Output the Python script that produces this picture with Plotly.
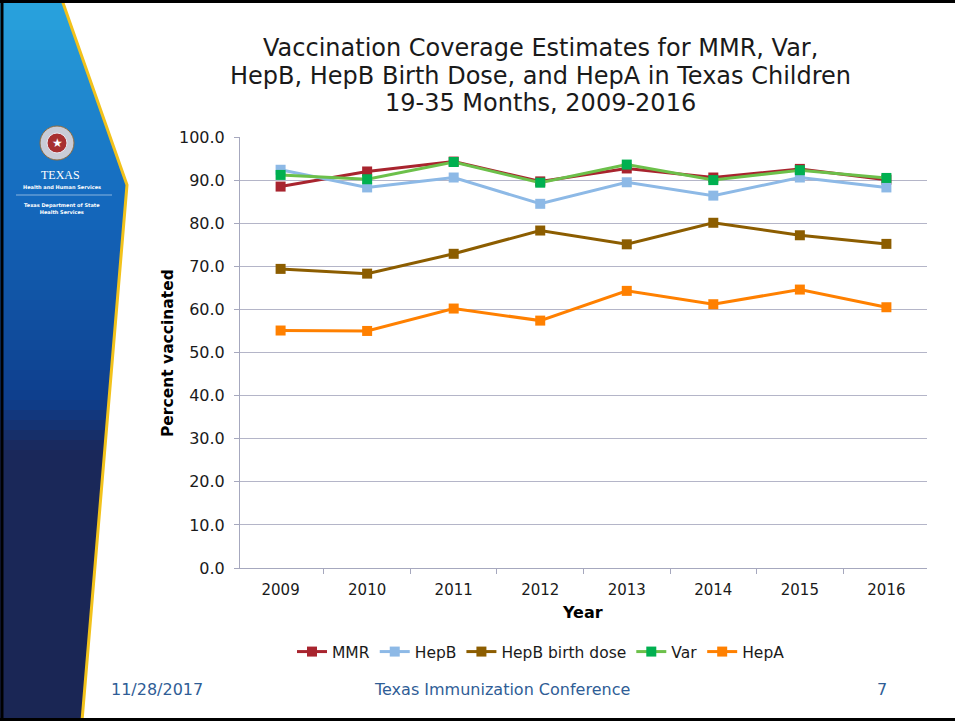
import plotly.graph_objects as go

# data
years = ["2009", "2010", "2011", "2012", "2013", "2014", "2015", "2016"]
mmr = [88.5, 92.0, 94.3, 89.7, 92.7, 90.6, 92.6, 90.1]
hepb = [92.4, 88.3, 90.6, 84.5, 89.5, 86.4, 90.6, 88.3]
hepb_birth = [69.4, 68.3, 72.9, 78.3, 75.1, 80.1, 77.2, 75.2]
var = [91.2, 90.2, 94.2, 89.4, 93.6, 90.0, 92.3, 90.5]
hepa = [55.1, 55.0, 60.2, 57.4, 64.3, 61.2, 64.6, 60.5]

title_lines = ["Vaccination Coverage Estimates for MMR, Var,",
               "HepB, HepB Birth Dose, and HepA in Texas Children",
               "19-35 Months, 2009-2016"]

W, H = 955, 721
L, R, T, B = 240, 927, 137, 568   # plot area in pixels


def px(x):
    return (x - L) / (R - L)


def py(y):
    return (B - y) / (B - T)


series = [
    ("MMR", mmr, "#A8242E", "#A8242E"),
    ("HepB", hepb, "#8DB9E6", "#8DB9E6"),
    ("HepB birth dose", hepb_birth, "#8C5D00", "#8C5D00"),
    ("Var", var, "#6CC04A", "#00B050"),
    ("HepA", hepa, "#FF8000", "#FF8000"),
]

fig = go.Figure()
for name, vals, lc, mc in series:
    fig.add_trace(go.Scatter(
        x=years, y=vals, name=name, mode="lines+markers",
        line=dict(color=lc, width=3),
        marker=dict(symbol="square", size=10, color=mc),
    ))


# left decorative panel
def edge_x(y):
    if y <= 185:
        return 62 + 65 * y / 185
    return 127 - 45 * (y - 185) / 536


stops = [(0, (42, 165, 222)), (200, (20, 105, 190)), (400, (14, 62, 140)),
         (450, (26, 40, 90)), (721, (26, 38, 84))]


def col_at(y):
    for (y0, c0), (y1, c1) in zip(stops, stops[1:]):
        if y0 <= y <= y1:
            t = (y - y0) / (y1 - y0)
            return "rgb(%d,%d,%d)" % tuple(round(a + (b - a) * t) for a, b in zip(c0, c1))
    return "rgb(26,38,84)"


shapes = []
band_edges = list(range(0, 721, 10)) + [721]
for y0, y1 in zip(band_edges, band_edges[1:]):
    pts = [(0, y0), (edge_x(y0), y0)]
    if y0 < 185 < y1:
        pts.append((edge_x(185), 185))
    pts += [(edge_x(y1), y1), (0, y1)]
    path = "M " + " L ".join("%f,%f" % (px(a), py(b)) for a, b in pts) + " Z"
    shapes.append(dict(type="path", xref="paper", yref="paper", path=path,
                       fillcolor=col_at((y0 + y1) / 2), line=dict(width=0), layer="below"))

edge = [(62, 0), (127, 185), (82, 721)]
shapes.append(dict(type="path", xref="paper", yref="paper",
                   path="M " + " L ".join("%f,%f" % (px(a), py(b)) for a, b in edge),
                   line=dict(color="#F2C21B", width=3), layer="below"))

# seal
shapes.append(dict(type="circle", xref="paper", yref="paper",
                   x0=px(40), x1=px(74), y0=py(160), y1=py(126),
                   fillcolor="#C9CCD6", line=dict(color="#8A6A40", width=1), layer="below"))
shapes.append(dict(type="circle", xref="paper", yref="paper",
                   x0=px(47), x1=px(67), y0=py(153), y1=py(133),
                   fillcolor="#A83030", line=dict(color="#E8E8F0", width=1), layer="below"))
shapes.append(dict(type="line", xref="paper", yref="paper",
                   x0=px(16), x1=px(112), y0=py(195), y1=py(195),
                   line=dict(color="rgba(255,255,255,0.5)", width=1), layer="below"))

# slide border
for x0, y0, x1, y1 in [(0, 1.5, W, 1.5), (2, 0, 2, H), (0, H - 1.5, W, H - 1.5)]:
    shapes.append(dict(type="line", xref="paper", yref="paper",
                       x0=px(x0), x1=px(x1), y0=py(y0), y1=py(y1),
                       line=dict(color="black", width=3)))

foot = dict(size=16, color="#2F5D96", family="DejaVu Sans")
ann = [dict(text=t, x=px(540), y=py(yc), font=dict(size=24, color="#1A1A1A", family="DejaVu Sans"))
       for t, yc in zip(title_lines, [48, 76, 103])]
ann += [
    dict(text="<b>Percent vaccinated</b>", x=px(168), y=py(353), textangle=-90,
         font=dict(size=15.5, color="black", family="DejaVu Sans")),
    dict(text="<b>Year</b>", x=px(582), y=py(612), font=dict(size=16, color="black", family="DejaVu Sans")),
    dict(text="11/28/2017", x=px(157), y=py(689), font=foot),
    dict(text="Texas Immunization Conference", x=px(502), y=py(689), font=foot),
    dict(text="7", x=px(882), y=py(689), font=foot),
    dict(text="★", x=px(57), y=py(143), font=dict(size=12, color="white")),
    dict(text="TEXAS", x=px(60), y=py(175), font=dict(size=12, color="white", family="Liberation Serif")),
    dict(text="<b>Health and Human Services</b>", x=px(62), y=py(187), font=dict(size=5, color="white")),
    dict(text="<b>Texas Department of State<br>Health Services</b>", x=px(62), y=py(208),
         font=dict(size=5, color="white")),
]
annotations = [dict(a, xref="paper", yref="paper", showarrow=False, xanchor="center", yanchor="middle")
               for a in ann]

fig.update_layout(
    width=W, height=H,
    margin=dict(l=L, r=W - R, t=T, b=H - B),
    paper_bgcolor="white", plot_bgcolor="white",
    font=dict(family="DejaVu Sans", size=14, color="#1A1A1A"),
    showlegend=True,
    legend=dict(orientation="h", x=px(541), y=py(652), xanchor="center", yanchor="middle",
                font=dict(size=15.5, color="#1A1A1A"), itemwidth=30, tracegroupgap=0),
    shapes=shapes,
    annotations=annotations,
)
fig.update_xaxes(type="category", showgrid=False, showline=True, linecolor="#A6A8BE", linewidth=1,
                 ticks="outside", tickson="boundaries", ticklen=5, tickcolor="#A6A8BE",
                 ticklabelstandoff=8, tickfont=dict(size=15, color="#1A1A1A"))
fig.update_yaxes(range=[0, 100], dtick=10, tickformat=".1f", showgrid=True, gridcolor="#B4B5C8",
                 gridwidth=1, showline=True, linecolor="#A6A8BE", linewidth=1,
                 ticks="outside", ticklen=5, tickcolor="#A6A8BE", zeroline=False,
                 ticklabelstandoff=6, tickfont=dict(size=16, color="#1A1A1A"))

fig.write_html("out.html", config={"displayModeBar": False},
               post_script="document.body.style.margin='0';")
